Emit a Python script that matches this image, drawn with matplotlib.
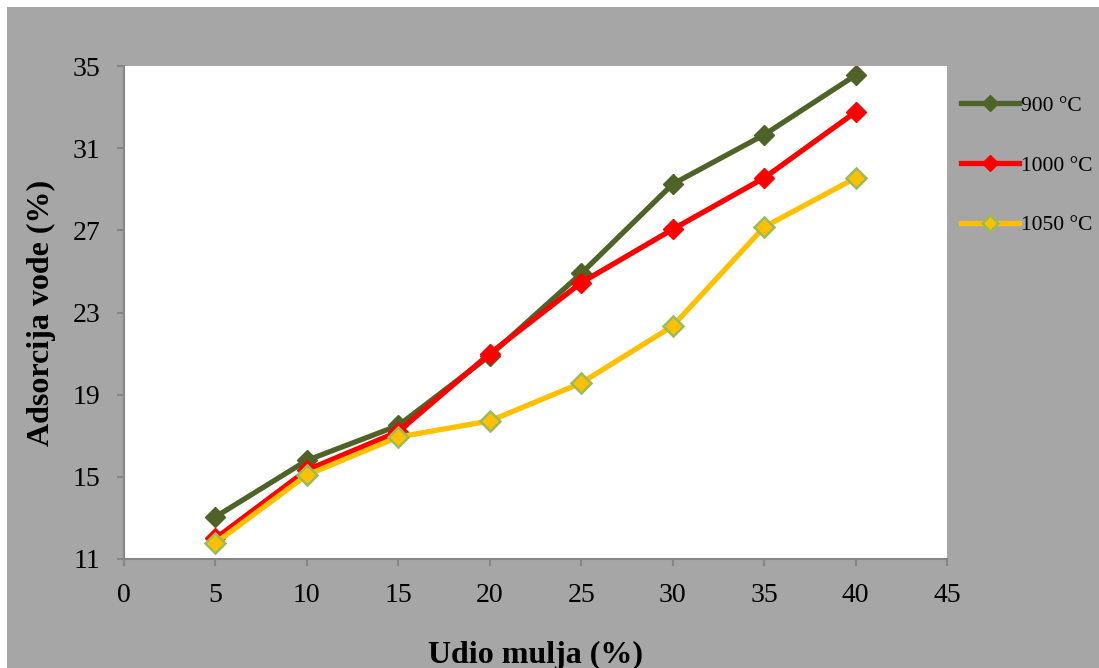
import matplotlib
matplotlib.use("Agg")
import matplotlib.pyplot as plt
from matplotlib.patches import Rectangle

x_vals = [5, 10, 15, 20, 25, 30, 35, 40]
s900 = [13.05, 15.8, 17.5, 20.9, 24.9, 29.25, 31.65, 34.55]
s1000 = [12.0, 15.33, 17.2, 21.0, 24.45, 27.05, 29.55, 32.76]
s1050 = [11.78, 15.09, 16.94, 17.72, 19.57, 22.34, 27.16, 29.55]
labels = ["900 °C", "1000 °C", "1050 °C"]
xticks = [0, 5, 10, 15, 20, 25, 30, 35, 40, 45]
yticks = [11, 15, 19, 23, 27, 31, 35]

plt.rcParams['font.family'] = ['Liberation Serif', 'DejaVu Serif']

W, H = 1099, 668
fig = plt.figure(figsize=(W / 100, H / 100), dpi=100)
fig.patch.set_facecolor('white')
bg = Rectangle((7 / W, 0), 1 - 7 / W, 1 - 7 / H, transform=fig.transFigure,
               facecolor='#a6a6a6', edgecolor='none', zorder=-10)
fig.patches.append(bg)

ax = fig.add_axes([124 / W, 1 - 559 / H, (947 - 124) / W, (559 - 66) / H])
ax.set_facecolor('white')

ax.plot(x_vals, s900, color='#4f6228', lw=3.8, marker='D', ms=10,
        mfc='#4f6228', mec='#4f6228', label=labels[0], zorder=3)
ax.plot(x_vals, s1000, color='#ff0000', lw=3.8, marker='D', ms=10,
        mfc='#ff0000', mec='#ff0000', label=labels[1], zorder=4)
ax.plot(x_vals, s1050, color='#ffc000', lw=3.8, marker='D', ms=10,
        mfc='#ffc000', mec='#9bbb59', mew=1.8, label=labels[2], zorder=5)

ax.set_xlim(0, 45)
ax.set_ylim(11, 35)
ax.set_xticks(xticks)
ax.set_yticks(yticks)
for s in ['top', 'right']:
    ax.spines[s].set_visible(False)
for s in ['left', 'bottom']:
    ax.spines[s].set_color('#868686')
    ax.spines[s].set_linewidth(1.5)
ax.tick_params(axis='both', direction='out', length=5, width=1.5,
               color='#868686', labelsize=20, labelcolor='black')
ax.tick_params(axis='y', pad=12)
ax.tick_params(axis='x', pad=12)

ax.set_xlabel('Udio mulja (%)', fontsize=23, fontweight='bold', labelpad=24)
ax.set_ylabel('Adsorcija vode (%)', fontsize=23, fontweight='bold', labelpad=12)

leg = fig.legend(loc='upper left', bbox_to_anchor=(952 / W, 1 - 87 / H),
                 frameon=False, fontsize=15.5, handlelength=2.7,
                 labelspacing=1.85, handletextpad=0.1, borderaxespad=0,
                 markerscale=0.8)

fig.savefig('out.png', dpi=100, facecolor=fig.get_facecolor())
